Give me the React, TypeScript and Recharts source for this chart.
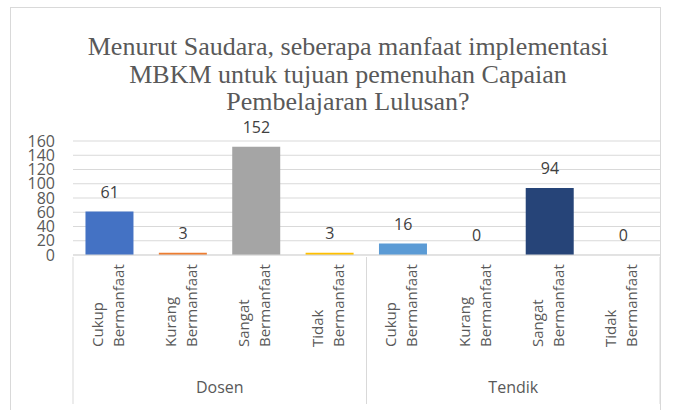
import React from 'react';
import { ComposedChart, Bar, Line, XAxis, YAxis, CartesianGrid, Cell, LabelList } from 'recharts';

const TITLE_LINES = [
  'Menurut Saudara, seberapa manfaat implementasi',
  'MBKM untuk tujuan pemenuhan Capaian',
  'Pembelajaran Lulusan?',
];
const GROUPS = ['Dosen', 'Tendik'];
const RESPONSES = ['Cukup Bermanfaat', 'Kurang Bermanfaat', 'Sangat Bermanfaat', 'Tidak Bermanfaat'];
const DOSEN_VALUES = [61, 3, 152, 3];
const TENDIK_VALUES = [16, 0, 94, 0];
const Y_TICKS = [0, 20, 40, 60, 80, 100, 120, 140, 160];
const DOSEN_COLORS = ['#4472C4', '#ED7D31', '#A5A5A5', '#FFC000'];
const TENDIK_COLORS = ['#5B9BD5', '#70AD47', '#264478', '#9E480E'];

const data = [
  ...RESPONSES.map((r, i) => ({ key: `d${i}`, group: GROUPS[0], label: r, value: DOSEN_VALUES[i], color: DOSEN_COLORS[i] })),
  ...RESPONSES.map((r, i) => ({ key: `t${i}`, group: GROUPS[1], label: r, value: TENDIK_VALUES[i], color: TENDIK_COLORS[i] })),
];

const W = 673;
const H = 410;
const MARGIN = { top: 141, right: 13, bottom: 0, left: 0 };
const Y_AXIS_W = 73;
const X_AXIS_H = 155;
const BAND = (W - MARGIN.left - MARGIN.right - Y_AXIS_W) / data.length;
const FONT = '"Open Sans", sans-serif';
const GRAY = '#595959';
const LINE = '#d9d9d9';

// two-line rotated labels, plus group dividers and group names
const CategoryTick = (props: any) => {
  const { x, y, index } = props;
  const row = data[index];
  if (!row) return null;
  const words = row.label.split(' ');
  const startY = y + 90;
  const pos = index % RESPONSES.length;
  const offsets = [-7, 14];
  return (
    <g>
      {words.map((w: string, i: number) => {
        const lx = x + offsets[i];
        return (
          <text key={i} x={lx} y={startY} transform={`rotate(-90 ${lx} ${startY})`}
            textAnchor="start" fill={GRAY} fontSize={15} fontFamily={FONT}>
            {w}
          </text>
        );
      })}
      {pos === 0 && (
        <>
          <line x1={x - BAND / 2} x2={x - BAND / 2} y1={y} y2={y + 147} stroke={LINE} />
          <text x={x + ((RESPONSES.length - 1) / 2) * BAND} y={y + 136} textAnchor="middle"
            fill={GRAY} fontSize={16} fontFamily={FONT}>
            {row.group}
          </text>
        </>
      )}
      {index === data.length - 1 && (
        <line x1={x + BAND / 2} x2={x + BAND / 2} y1={y} y2={y + 147} stroke={LINE} />
      )}
    </g>
  );
};

export default function App() {
  return (
    <div style={{ position: 'absolute', left: 0, top: 0, width: W, height: H, background: '#fff', overflow: 'hidden' }}>
      <div style={{ position: 'absolute', left: 10, top: 7, width: 651, height: 420, border: `1px solid ${LINE}`, boxSizing: 'border-box' }} />
      <svg width={W} height={130} style={{ position: 'absolute', left: 0, top: 0 }}>
        {TITLE_LINES.map((t, i) => (
          <text key={i} x={348} y={55 + i * 27.5} textAnchor="middle" fill={GRAY}
            fontSize={26} fontFamily='"Liberation Serif", serif'>
            {t}
          </text>
        ))}
      </svg>
      <div style={{ position: 'absolute', left: 0, top: 0 }}>
        <ComposedChart width={W} height={H} data={data} margin={MARGIN} barCategoryGap="17%">
          <CartesianGrid vertical={false} stroke={LINE} />
          <XAxis dataKey="key" interval={0} height={X_AXIS_H} tickLine={false} tickSize={0}
            axisLine={{ stroke: LINE }} tick={<CategoryTick />} />
          <YAxis width={Y_AXIS_W} domain={[0, 160]} ticks={Y_TICKS} interval={0} axisLine={false} tickLine={false}
            tickSize={0} tickMargin={18} tick={{ fill: GRAY, fontSize: 16, fontFamily: FONT }} />
          <Bar dataKey="value" isAnimationActive={false}>
            {data.map((d) => (
              <Cell key={d.key} fill={d.color} />
            ))}
          </Bar>
          {/* invisible series that carries the value labels, so zero values get one too */}
          <Line dataKey="value" stroke="none" dot={false} activeDot={false} isAnimationActive={false}>
            <LabelList dataKey="value" position="top" offset={14} fill="#404040" fontSize={16} fontFamily={FONT} />
          </Line>
        </ComposedChart>
      </div>
    </div>
  );
}
